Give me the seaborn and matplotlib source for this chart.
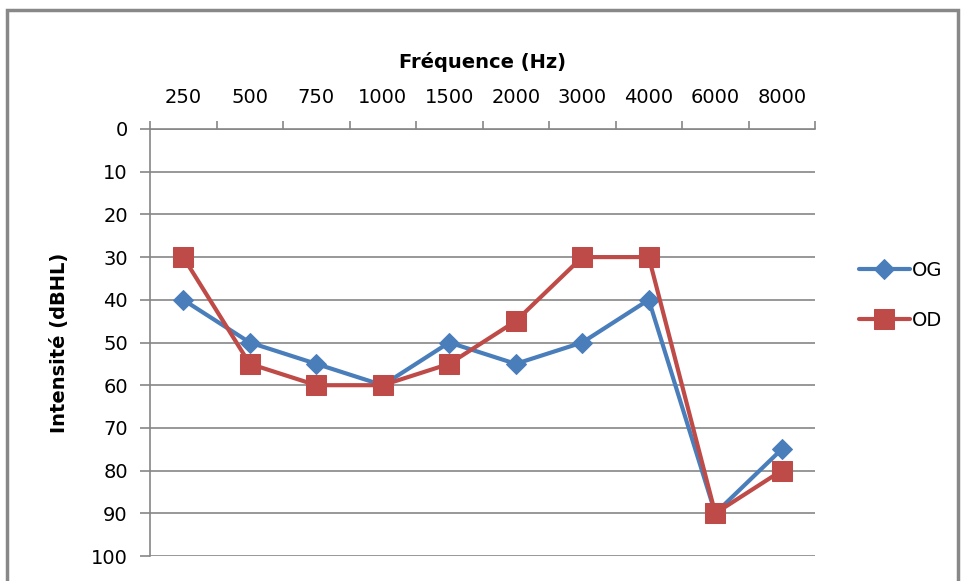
import matplotlib
matplotlib.use("Agg")
import matplotlib.pyplot as plt
import seaborn as sns
import pandas as pd
from matplotlib.patches import Rectangle

frequencies = ["250", "500", "750", "1000", "1500", "2000", "3000", "4000", "6000", "8000"]
og_values = [40, 50, 55, 60, 50, 55, 50, 40, 90, 75]
od_values = [30, 55, 60, 60, 55, 45, 30, 30, 90, 80]
y_ticks = [0, 10, 20, 30, 40, 50, 60, 70, 80, 90, 100]

sns.set_theme(style="white")
plt.rcParams["font.family"] = ["DejaVu Sans"]
plt.rcParams["text.color"] = "black"
plt.rcParams["axes.labelcolor"] = "black"
plt.rcParams["xtick.labelcolor"] = "black"
plt.rcParams["ytick.labelcolor"] = "black"

df = pd.DataFrame({
    "freq": frequencies * 2,
    "pos": list(range(len(frequencies))) * 2,
    "value": og_values + od_values,
    "ear": ["OG"] * len(frequencies) + ["OD"] * len(frequencies),
})

fig = plt.figure(figsize=(9.65, 5.81), dpi=100)
ax = fig.add_axes([150 / 965, 1 - 556 / 581, (815 - 150) / 965, (556 - 129) / 581])

blue = "#4A7EBB"
red = "#BE4B48"
grid_c = "#868686"
fs = 14

for y in y_ticks:
    ax.axhline(y, color=grid_c, lw=1.2, zorder=0)

sns.lineplot(data=df[df.ear == "OG"], x="pos", y="value", ax=ax, color=blue, lw=3,
             marker="D", markersize=10, markeredgecolor=blue, label="OG", zorder=3)
sns.lineplot(data=df[df.ear == "OD"], x="pos", y="value", ax=ax, color=red, lw=3,
             marker="s", markersize=15, markeredgecolor=red, label="OD", zorder=4)

ax.set_xlim(-0.5, len(frequencies) - 0.5)
ax.set_ylim(100, 0)
ax.set_yticks(y_ticks)
ax.set_yticklabels([str(v) for v in y_ticks], fontsize=fs)
ax.xaxis.tick_top()
ax.xaxis.set_label_position("top")
ax.set_xticks(range(len(frequencies)))
ax.set_xticklabels(frequencies, fontsize=fs)
ax.tick_params(axis="x", length=0, pad=16)
ax.set_xticks([i - 0.5 for i in range(len(frequencies) + 1)], minor=True)
ax.tick_params(axis="x", which="minor", top=True, bottom=False, length=6, color=grid_c, width=1.2)
ax.tick_params(axis="y", left=True, length=7, color=grid_c, width=1.2, pad=9)

ax.set_xlabel("Fréquence (Hz)", fontsize=fs, fontweight="bold", labelpad=14)
ax.set_ylabel("Intensité (dBHL)", fontsize=fs, fontweight="bold", labelpad=16)

for side in ["right", "bottom"]:
    ax.spines[side].set_visible(False)
for side in ["left", "top"]:
    ax.spines[side].set_color(grid_c)
    ax.spines[side].set_linewidth(1.2)

leg = ax.legend(loc="center left", bbox_to_anchor=(1.04, 0.61), frameon=False,
                fontsize=fs, handlelength=2.6, labelspacing=1.6, handletextpad=0.1)

fig.patches.append(Rectangle((7 / 965, -0.05), (958 - 7) / 965, 1.05 - 10 / 581,
                             transform=fig.transFigure, fill=False,
                             edgecolor="#888888", lw=2.5))

fig.savefig("out.png", dpi=100)
